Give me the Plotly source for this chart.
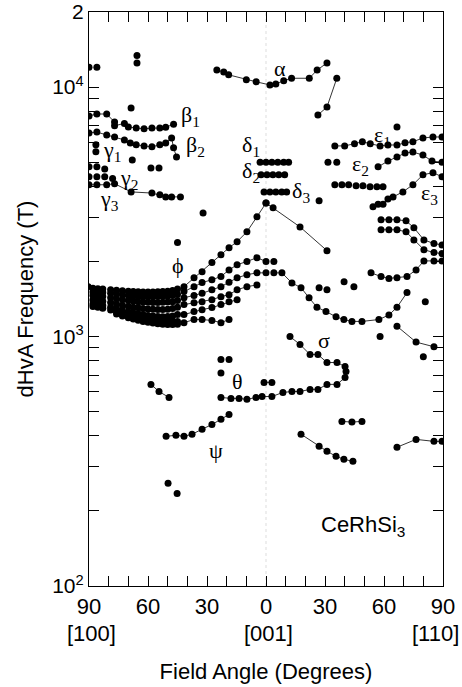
import math
import plotly.graph_objects as go

# ---------------- data (angle in degrees: negative = toward [100], positive = toward [110]; frequency in T)
alpha_ang = [-25, -21.5, -19, -10, -5, 2, 5, 9, 13, 22, 26, 31]
alpha_f = [11700, 11500, 11200, 10700, 10500, 10200, 10300, 10600, 10850, 10850, 11700, 12500]

steep_ang = [26.4, 31, 36]
steep_f = [7730, 8320, 10850]

beta1_ang = [-90, -86, -81, -77, -77, -72, -70, -66, -62, -58, -54, -51, -47]
beta1_f = [7660, 7800, 7800, 7240, 7000, 7150, 6920, 6850, 6800, 6850, 6850, 6900, 7100]

beta2_ang = [-90, -86, -81, -77, -72, -69, -66, -62, -58, -54, -51, -48, -47, -45.5]
beta2_f = [6550, 6600, 6430, 6310, 6140, 5970, 5870, 5810, 5760, 5870, 5970, 6250, 5710, 5250]

gamma1_ang = [-90, -86, -82]
gamma1_f = [4790, 4790, 4700]
gamma2_ang = [-90, -86, -82, -78]
gamma2_f = [4370, 4370, 4370, 4300]
gamma3_ang = [-90, -86, -81, -77, -68.6, -58, -54, -51, -48, -43.5]
gamma3_f = [4060, 4060, 4060, 4100, 3800, 3760, 3700, 3630, 3630, 3630]

delta1_ang = [-3, 0, 3, 6, 9, 11.5]
delta1_f = [5000, 5000, 5000, 5000, 5000, 5000]
delta2_ang = [-2.5, 0.5, 3.5, 6.5, 9.5]
delta2_f = [4450, 4450, 4450, 4450, 4450]
delta3_ang = [-1, 2, 5, 8, 10.5]
delta3_f = [3800, 3800, 3800, 3800, 3800]

eps1_ang = [35, 40, 45, 49, 53, 58, 62, 66.6, 70.7, 74.7, 79.8, 84.9, 89.5]
eps1_f = [5810, 5810, 5930, 6040, 5930, 5810, 5860, 5860, 5980, 6040, 6250, 6310, 6310]
eps2_ang = [57, 62, 66.6, 70.7, 74.7, 79.8, 84.4, 89.5]
eps2_f = [4790, 5050, 5250, 5440, 5490, 5340, 5050, 5000]
epsrow_ang = [35, 38.6, 42, 45.8, 49.3, 52.9, 56.4, 59.5]
epsrow_f = [4060, 4060, 4060, 4020, 4020, 3990, 3990, 3990]
eps3_ang = [54.4, 57, 59.5, 62, 64.6, 69.6, 74.7, 79.8, 84.9, 89.5]
eps3_f = [3310, 3390, 3390, 3560, 3630, 3800, 4060, 4450, 4540, 4370]

r_ang = [58.5, 62.5, 66.6, 71.2, 75.2, 80.3, 85.4, 89.5]
r_f = [2940, 2940, 2940, 2910, 2730, 2440, 2360, 2330]
s_ang = [58.5, 62.5, 66.6, 71.2, 75.2, 80.3, 85.4, 89.5]
s_f = [2680, 2680, 2680, 2630, 2440, 2230, 2170, 2150]
u_ang = [53.4, 58.5, 62.5, 66.6, 71.7, 76.3, 80.3, 85.4, 89.5]
u_f = [1800, 1740, 1710, 1720, 1740, 1850, 2010, 2010, 2010]

# dense phi cluster columns
col_ang = [-88, -85.5, -83, -79, -76, -73, -70, -67.5, -65, -62.5, -60, -57.5, -55, -52.5, -50, -47.5, -45]
c1_f = [1560, 1555, 1550, 1540, 1532, 1525, 1520, 1515, 1512, 1510, 1510, 1510, 1512, 1515, 1520, 1530, 1550]
c2_f = [1510, 1505, 1500, 1490, 1480, 1470, 1462, 1455, 1450, 1447, 1445, 1445, 1447, 1450, 1455, 1462, 1475]
c3_f = [1460, 1455, 1448, 1432, 1418, 1405, 1395, 1388, 1380, 1375, 1372, 1370, 1370, 1372, 1375, 1380, 1395]
c4_f = [1400, 1393, 1385, 1368, 1350, 1335, 1322, 1312, 1303, 1296, 1290, 1287, 1285, 1285, 1288, 1295, 1310]
c5_f = [1350, 1342, 1332, 1312, 1292, 1275, 1258, 1245, 1235, 1225, 1215, 1208, 1203, 1200, 1203, 1210, 1225]
c6_f = [1320, 1310, 1298, 1278, 1255, 1235, 1215, 1200, 1188, 1177, 1168, 1160, 1155, 1150, 1150, 1150, 1150]
c7_ang = [-76, -73, -70, -67.5, -65, -62.5, -60, -57.5, -55, -52.5, -50, -47.5, -45]
c7_f = [1230, 1210, 1190, 1175, 1162, 1150, 1140, 1132, 1125, 1120, 1118, 1118, 1120]

fan_ang = [-41.7, -36.6, -32.5, -27.5, -22.9, -18.8, -14.7, -9.7, -4.6, 0]
phi1_f = [1585, 1720, 1820, 1980, 2130, 2270, 2400, 2630, 3020, 3430]
phi2_f = [1514, 1585, 1645, 1690, 1740, 1850, 1940, 2000, 2070, 2000]
phi3_f = [1430, 1460, 1490, 1540, 1585, 1650, 1720, 1770, 1800, 1800]
phi4_f = [1343, 1367, 1380, 1406, 1445, 1472, 1540, 1585, 1610]
phi5_f = [1225, 1259, 1282, 1306, 1343, 1380, 1406]
phi6_f = [1137, 1170, 1170, 1160, 1137, 1170]

d1_ang = [0, 3.6, 17.3, 31]
d1_f = [3430, 3280, 2750, 2210]
d2_ang = [4]
d2_f = [2000]
d3_ang = [4, 8.1, 13.2, 17.8, 21.9, 25.9, 30.5, 35.6, 39.6, 43.7, 48.8, 57.4, 62.5, 66.6, 71.7]
d3_f = [1800, 1800, 1640, 1570, 1430, 1310, 1260, 1200, 1170, 1150, 1150, 1170, 1220, 1310, 1500]
d4_ang = [66.6, 76.3, 85.4]
d4_f = [1100, 950, 910]

theta_ang = [-22.9, -17.8, -13.7, -9.7, -5.1, -2, 3, 8.6, 13.2, 17.3, 22.4, 26.4, 31, 36.1, 40.2, 40.7,
             40.2, 36.1, 31, 26.4, 22.4, 17.3, 12.2]
theta_f = [570, 565, 565, 560, 570, 575, 575, 597, 602, 602, 614, 614, 643, 643, 685, 725,
           758, 787, 787, 847, 847, 929, 1000]
theta0_ang = [-1, 3]
theta0_f = [655, 655]
low_left_ang = [-58.5, -54.4, -49.3]
low_left_f = [643, 602, 570]
psi_ang = [-50.8, -45.8, -41.7, -37.6, -32.5, -27.5, -22.9, -18.8]
psi_f = [398, 402, 398, 406, 425, 444, 466, 487]
lr_seg_ang = [38.6, 43.7, 48.8]
lr_seg_f = [457, 454, 457]
lr_desc_ang = [17.8, 27, 31, 35.6, 39.6, 44.2]
lr_desc_f = [406, 363, 347, 331, 322, 316]
lr_rise_ang = [66.6, 76.3, 85.4, 89.5]
lr_rise_f = [360, 387, 380, 380]

iso_ang = [-90, -86, -65.6, -65.6, -68.6, -68, -58.5, -54.4, -32, -45, 27, 66.6, -86.5, -86.5,
           31.5, 36, 27, 31, 39.7, 44.7, 58, 80, 81, -22.9, -18.8, -22.9, -49.8, -45.2, -90.5]
iso_f = [12000, 12000, 13400, 12500, 8240, 5100, 4740, 4740, 3130, 2380, 3500, 6920, 5870, 5500,
         5000, 5000, 1570, 1540, 1660, 1585, 1000, 830, 1380, 809, 809, 715, 258, 235, 1585]

# label positions (angle, log10 frequency)
labels = [
    ("α", 7.1, 4.076), ("β<sub>1</sub>", -38.6, 3.884), ("β<sub>2</sub>", -36.1, 3.764),
    ("γ<sub>1</sub>", -78.5, 3.745), ("γ<sub>2</sub>", -69.5, 3.632), ("γ<sub>3</sub>", -79.8, 3.548),
    ("δ<sub>1</sub>", -7.6, 3.764), ("δ<sub>2</sub>", -7.6, 3.66), ("δ<sub>3</sub>", 17.8, 3.58),
    ("ε<sub>1</sub>", 59, 3.804), ("ε<sub>2</sub>", 47.8, 3.688), ("ε<sub>3</sub>", 82.9, 3.572),
    ("ϕ", -44.7, 3.284), ("σ", 29.5, 2.984), ("θ", -14.7, 2.82), ("ψ", -25.4, 2.544),
]

x_tickvals = [-90, -60, -30, 0, 30, 60, 90]
x_ticktext = ["90", "60", "30", "0", "30", "60", "90"]
# crystal direction labels under the ticks: (text, x in plot-width fraction, x anchor)
dir_labels = [("[100]", 0.006, "center"), ("[001]", 0.506, "center"), ("[110]", 1.05, "right")]

# ---------------- figure
fig = go.Figure()
MK = dict(color="black", size=7, symbol="circle")
LN = dict(color="black", width=0.8)


def add(ang, f, line=True):
    fig.add_trace(go.Scatter(x=ang, y=f, mode="lines+markers" if line else "markers",
                             marker=MK, line=LN, showlegend=False, hoverinfo="x+y"))


add(alpha_ang, alpha_f)
add(steep_ang, steep_f)
add(beta1_ang, beta1_f)
add(beta2_ang, beta2_f)
add(gamma1_ang, gamma1_f, False)
add(gamma2_ang, gamma2_f, False)
add(gamma3_ang, gamma3_f)
add(delta1_ang, delta1_f)
add(delta2_ang, delta2_f)
add(delta3_ang, delta3_f)
add(eps1_ang, eps1_f)
add(eps2_ang, eps2_f)
add(epsrow_ang, epsrow_f, False)
add(eps3_ang, eps3_f)
add(r_ang, r_f)
add(s_ang, s_f)
add(u_ang, u_f)
for cf in (c1_f, c2_f, c3_f, c4_f, c5_f, c6_f):
    add(col_ang, cf, False)
add(c7_ang, c7_f, False)
for pf in (phi1_f, phi2_f, phi3_f, phi4_f, phi5_f, phi6_f):
    add(fan_ang[:len(pf)], pf)
add(d1_ang, d1_f)
add(d2_ang, d2_f, False)
add(d3_ang, d3_f)
add(d4_ang, d4_f)
add(theta_ang, theta_f)
add(theta0_ang, theta0_f)
add(low_left_ang, low_left_f)
add(psi_ang, psi_f)
add(lr_seg_ang, lr_seg_f)
add(lr_desc_ang, lr_desc_f)
add(lr_rise_ang, lr_rise_f)
add(iso_ang, iso_f, False)

fig.add_vline(x=0, line=dict(color="#dddddd", width=1, dash="dot"), layer="below")

for txt, ax_, ay_ in labels:
    fig.add_annotation(x=ax_, y=ay_, text=txt, showarrow=False,
                       font=dict(family="Liberation Serif", size=22, color="black"))
fig.add_annotation(x=49.3, y=2.24, text="CeRhSi<sub>3</sub>", showarrow=False,
                   font=dict(family="Liberation Sans", size=22, color="black"))
for txt, px_, anc in dir_labels:
    fig.add_annotation(x=px_, xref="paper", y=-0.082, yref="paper", text=txt, showarrow=False,
                       xanchor=anc, yanchor="middle",
                       font=dict(family="Liberation Sans", size=22, color="black"))

y_tickvals = [100, 200, 300, 400, 500, 600, 700, 800, 900,
              1000, 2000, 3000, 4000, 5000, 6000, 7000, 8000, 9000, 10000, 20000]
y_ticktext = ["10<sup>2</sup>"] + [""] * 8 + ["10<sup>3</sup>"] + [""] * 8 + ["10<sup>4</sup>", "2"]

fig.update_xaxes(range=[-90, 90], tickvals=x_tickvals, ticktext=x_ticktext, automargin=False,
                 ticks="inside", ticklen=10, tickcolor="black", showgrid=False, zeroline=False,
                 showline=True, linecolor="black", linewidth=1.2, mirror="ticks",
                 ticklabeloverflow="allow",
                 minor=dict(dtick=10, tick0=0, ticks="inside", ticklen=10, tickcolor="black"),
                 tickfont=dict(family="Liberation Sans", size=22, color="black"),
                 title=dict(text="Field Angle (Degrees)", standoff=46,
                            font=dict(family="Liberation Sans", size=22, color="black")))
fig.update_yaxes(type="log", range=[2, math.log10(20000)], tickvals=y_tickvals, ticktext=y_ticktext,
                 automargin=False,
                 ticks="inside", ticklen=10, tickcolor="black", showgrid=False, zeroline=False,
                 showline=True, linecolor="black", linewidth=1.2, mirror="ticks",
                 ticklabeloverflow="allow",
                 tickfont=dict(family="Liberation Sans", size=21, color="black"),
                 title=dict(text="dHvA Frequency (T)", standoff=12,
                            font=dict(family="Liberation Sans", size=22, color="black")))
fig.update_layout(width=462, height=687, margin=dict(l=89, r=19, t=12, b=101),
                  paper_bgcolor="white", plot_bgcolor="white")

fig.write_html("out.html")
